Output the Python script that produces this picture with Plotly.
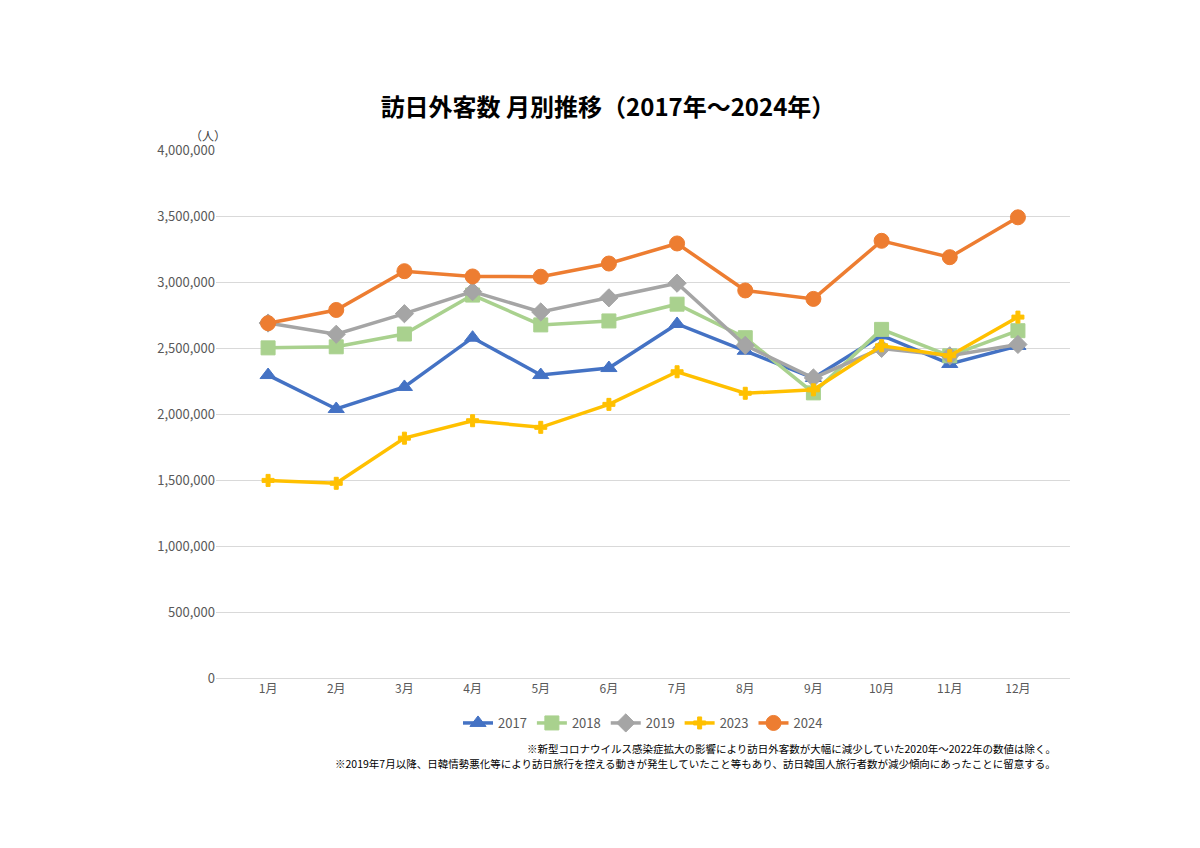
import plotly.graph_objects as go

months = ["1月", "2月", "3月", "4月", "5月", "6月", "7月", "8月", "9月", "10月", "11月", "12月"]
v2017 = [2295000, 2038000, 2205000, 2578000, 2295000, 2348000, 2682000, 2479000, 2273000, 2595000, 2379000, 2516000]
v2018 = [2501000, 2509000, 2606000, 2901000, 2675000, 2705000, 2832000, 2578000, 2160000, 2641000, 2441000, 2631000]
v2019 = [2689000, 2604000, 2760000, 2927000, 2773000, 2880000, 2991000, 2520000, 2273000, 2497000, 2441000, 2527000]
v2023 = [1497000, 1475000, 1817000, 1949000, 1899000, 2073000, 2320000, 2157000, 2183000, 2517000, 2441000, 2734000]
v2024 = [2688000, 2788000, 3082000, 3042000, 3040000, 3140000, 3292000, 2936000, 2872000, 3312000, 3188000, 3490000]

series = [
    ("2017", v2017, "#4472C4", "triangle-up", 14),
    ("2018", v2018, "#A9D18E", "square", 14),
    ("2019", v2019, "#A5A5A5", "diamond", 14),
    ("2023", v2023, "#FFC000", "cross", 10),
    ("2024", v2024, "#ED7D31", "circle", 15),
]

fig = go.Figure()
for name, vals, color, sym, size in series:
    fig.add_trace(go.Scatter(
        x=months, y=vals, name=name, mode="lines+markers",
        line=dict(color=color, width=3.5),
        marker=dict(symbol=sym, size=size, color=color,
                    line=dict(color=color, width=1)),
    ))

font = "Noto Sans CJK JP"
fig.update_layout(
    width=1200, height=848,
    paper_bgcolor="white", plot_bgcolor="white",
    margin=dict(l=208, r=138, t=142, b=178, autoexpand=False),
    font=dict(family=font, size=12, color="#595959"),
    title=dict(text="<b>訪日外客数 月別推移（2017年～2024年）</b>",
               x=0.5, xanchor="center", y=0.882, yanchor="middle",
               font=dict(size=24, color="black", family=font)),
    legend=dict(orientation="h", x=0.5, xanchor="center", y=(670 - 715) / 528,
                yanchor="middle", font=dict(size=13, color="#595959")),
    showlegend=True,
)
fig.update_xaxes(showgrid=False, showline=True, linecolor="#D9D9D9", ticks="",
                 tickfont=dict(size=12), automargin=False)
fig.update_yaxes(range=[0, 4000000], dtick=500000, tickformat=",d", automargin=False,
                 gridcolor="#D9D9D9", zeroline=False, ticks="", tickfont=dict(size=13))

fig.add_annotation(text="（人）", xref="paper", yref="paper",
                   x=(180 - 208) / 854, y=(670 - 117) / 528, showarrow=False,
                   font=dict(size=12, color="#404040"))
fig.add_annotation(text="※新型コロナウイルス感染症拡大の影響により訪日外客数が大幅に減少していた2020年～2022年の数値は除く。",
                   xref="paper", yref="paper", x=(1050 - 208) / 854, y=(670 - 740) / 528,
                   xanchor="right", yanchor="middle", showarrow=False,
                   font=dict(size=10.5, color="black"))
fig.add_annotation(text="※2019年7月以降、日韓情勢悪化等により訪日旅行を控える動きが発生していたこと等もあり、訪日韓国人旅行者数が減少傾向にあったことに留意する。",
                   xref="paper", yref="paper", x=(1050 - 208) / 854, y=(670 - 755) / 528,
                   xanchor="right", yanchor="middle", showarrow=False,
                   font=dict(size=10.5, color="black"))

fig.write_html("out.html")
